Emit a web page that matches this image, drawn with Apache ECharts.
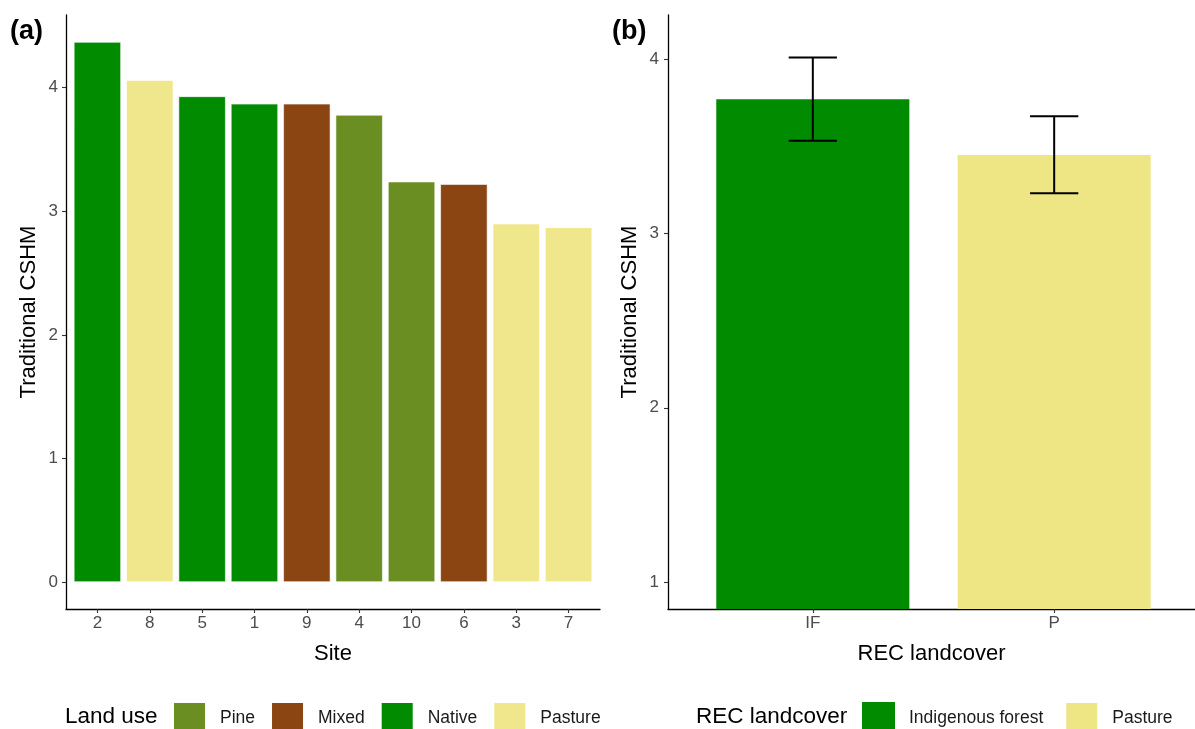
<!DOCTYPE html>
<html>
<head>
<meta charset="utf-8">
<title>Traditional CSHM by site and REC landcover</title>
<script src="https://cdn.jsdelivr.net/npm/echarts@6/dist/echarts.min.js"></script>
<style>
  html, body { margin: 0; padding: 0; background: #ffffff; }
  #chart { width: 1195px; height: 729px; }
</style>
</head>
<body>
<div id="chart"></div>
<script>
// ---- Panel (a): Traditional CSHM per site, ordered high to low ----
const sites = ['2', '8', '5', '1', '9', '4', '10', '6', '3', '7'];
const siteLandUse = ['Native', 'Pasture', 'Native', 'Native', 'Mixed', 'Pine', 'Pine', 'Mixed', 'Pasture', 'Pasture'];
const siteCSHM = [4.37, 4.06, 3.93, 3.87, 3.87, 3.78, 3.24, 3.22, 2.90, 2.87];
const landUses = ['Pine', 'Mixed', 'Native', 'Pasture'];
const landUseColors = ['#6B8E23', '#8B4513', '#008B00', '#F0E68C'];
const yTicksA = [0, 1, 2, 3, 4];

// ---- Panel (b): mean Traditional CSHM per REC landcover with error bars ----
const recCodes = ['IF', 'P'];
const recNames = ['Indigenous forest', 'Pasture'];
const recColors = ['#008B00', '#EEE685'];
const recMean = [3.772, 3.452];
const recLower = [3.533, 3.232];
const recUpper = [4.011, 3.674];
const yTicksB = [1, 2, 3, 4];

const FONT = 'Liberation Sans, Arial, sans-serif';
const tickLabel = { fontFamily: FONT, fontSize: 17, color: '#4D4D4D' };
const titleText = { fontFamily: FONT, fontSize: 22, color: '#000000' };
const axisLineStyle = { color: '#000000', width: 1.3 };
const tickLineStyle = { color: '#333333', width: 1.1 };

// Layout of the two panels (frame grids carry the axis lines, data grids carry the marks)
const A = { left: 66, top: 15, width: 534, height: 594 };
const B = { left: 668, top: 15, width: 531, height: 594 };
// discrete scale padding: 0.6 band on each side of the outer categories
const bandA = A.width / (sites.length - 1 + 1.2);
const bandB = B.width / (recCodes.length - 1 + 1.2);
const dataA = { left: A.left + 0.1 * bandA, top: A.top, width: bandA * sites.length, height: A.height };
const dataB = { left: B.left + 0.1 * bandB, top: B.top, width: bandB * recCodes.length, height: B.height };

// continuous padding of 5% of the range
const maxA = Math.max(...siteCSHM);
const padA = maxA * 0.05;
const yMinB = 1, yMaxB = 4.1, padB = (yMaxB - yMinB) * 0.05;

function frameAxis(gridIndex, name, nameGap) {
  return {
    gridIndex, type: 'value', min: 0, max: 1,
    name, nameLocation: 'middle', nameGap,
    nameTextStyle: titleText,
    axisLine: { show: true, onZero: false, lineStyle: axisLineStyle },
    axisTick: { show: false }, axisLabel: { show: false }, splitLine: { show: false }
  };
}

// one stacked bar series per land use so each site shows in its class colour
const barSeriesA = landUses.map((lu, k) => ({
  name: lu,
  type: 'bar',
  xAxisIndex: 2, yAxisIndex: 2,
  stack: 'site',
  barWidth: '90%',
  itemStyle: { color: landUseColors[k], borderColor: '#ffffff', borderWidth: 0.6 },
  data: siteCSHM.map((v, i) => siteLandUse[i] === lu ? v : '-'),
  silent: true
}));

const barSeriesB = recNames.map((nm, k) => ({
  name: nm,
  type: 'bar',
  xAxisIndex: 3, yAxisIndex: 3,
  stack: 'rec',
  barWidth: '80%',
  itemStyle: { color: recColors[k] },
  data: recMean.map((v, i) => i === k ? v : '-'),
  silent: true
}));

const errorSeriesB = {
  type: 'custom',
  xAxisIndex: 3, yAxisIndex: 3,
  silent: true,
  z: 5,
  data: recCodes.map((c, i) => [i, recLower[i], recUpper[i]]),
  renderItem: function (params, api) {
    const x = api.value(0);
    const lo = api.coord([x, api.value(1)]);
    const hi = api.coord([x, api.value(2)]);
    const half = api.size([1, 0])[0] * 0.2 / 2;
    const style = { stroke: '#000000', lineWidth: 2 };
    return {
      type: 'group',
      children: [
        { type: 'line', shape: { x1: hi[0], y1: hi[1], x2: lo[0], y2: lo[1] }, style },
        { type: 'line', shape: { x1: hi[0] - half, y1: hi[1], x2: hi[0] + half, y2: hi[1] }, style },
        { type: 'line', shape: { x1: lo[0] - half, y1: lo[1], x2: lo[0] + half, y2: lo[1] }, style }
      ]
    };
  }
};

const chart = echarts.init(document.getElementById('chart'), null, { renderer: 'canvas' });

const legendText = { fontFamily: FONT, fontSize: 17.5, color: '#1A1A1A', padding: [0, 0, 0, 9] };

const option = {
  backgroundColor: '#ffffff',
  animation: false,
  grid: [
    Object.assign({ containLabel: false }, A),
    Object.assign({ containLabel: false }, B),
    Object.assign({ containLabel: false }, dataA),
    Object.assign({ containLabel: false }, dataB)
  ],
  xAxis: [
    frameAxis(0, 'Site', 34),
    frameAxis(1, 'REC landcover', 34),
    {
      gridIndex: 2, type: 'category', data: sites,
      axisLine: { show: false, onZero: false },
      axisTick: { show: true, alignWithLabel: true, length: 4, lineStyle: tickLineStyle },
      axisLabel: Object.assign({ margin: 6 }, tickLabel),
      splitLine: { show: false }
    },
    {
      gridIndex: 3, type: 'category', data: recCodes,
      axisLine: { show: false, onZero: false },
      axisTick: { show: true, alignWithLabel: true, length: 4, lineStyle: tickLineStyle },
      axisLabel: Object.assign({ margin: 6 }, tickLabel),
      splitLine: { show: false }
    }
  ],
  yAxis: [
    frameAxis(0, 'Traditional CSHM', 26),
    frameAxis(1, 'Traditional CSHM', 27),
    {
      gridIndex: 2, type: 'value',
      min: -padA, max: maxA + padA,
      offset: dataA.left - A.left,
      axisLine: { show: false, onZero: false },
      axisTick: { show: true, length: 4, lineStyle: tickLineStyle, customValues: yTicksA },
      axisLabel: Object.assign({ margin: 8, customValues: yTicksA }, tickLabel),
      splitLine: { show: false }
    },
    {
      gridIndex: 3, type: 'value',
      min: yMinB - padB, max: yMaxB + padB,
      offset: dataB.left - B.left,
      axisLine: { show: false, onZero: false },
      axisTick: { show: true, length: 4, lineStyle: tickLineStyle, customValues: yTicksB },
      axisLabel: Object.assign({ margin: 9, customValues: yTicksB }, tickLabel),
      splitLine: { show: false }
    }
  ],
  legend: [
    {
      left: 172, top: 701, padding: 0,
      orient: 'horizontal',
      data: landUses,
      itemWidth: 33, itemHeight: 33, itemGap: 15,
      icon: 'rect',
      selectedMode: false,
      textStyle: legendText
    },
    {
      left: 862, top: 701, padding: 0,
      orient: 'horizontal',
      data: recNames.map((n, k) => ({ name: n, itemStyle: { color: recColors[k] } })),
      itemWidth: 33, itemHeight: 33, itemGap: 21,
      icon: 'rect',
      selectedMode: false,
      textStyle: legendText
    }
  ],
  graphic: [
    { type: 'text', left: 10, top: 18, style: { text: '(a)', font: 'bold 27px ' + FONT, fill: '#000000' } },
    { type: 'text', left: 612, top: 18, style: { text: '(b)', font: 'bold 27px ' + FONT, fill: '#000000' } },
    { type: 'text', left: 65, top: 705, style: { text: 'Land use', font: '22.5px ' + FONT, fill: '#000000' } },
    { type: 'text', left: 696, top: 705, style: { text: 'REC landcover', font: '22.5px ' + FONT, fill: '#000000' } }
  ],
  series: [...barSeriesA, ...barSeriesB, errorSeriesB]
};

chart.setOption(option);
</script>
</body>
</html>
